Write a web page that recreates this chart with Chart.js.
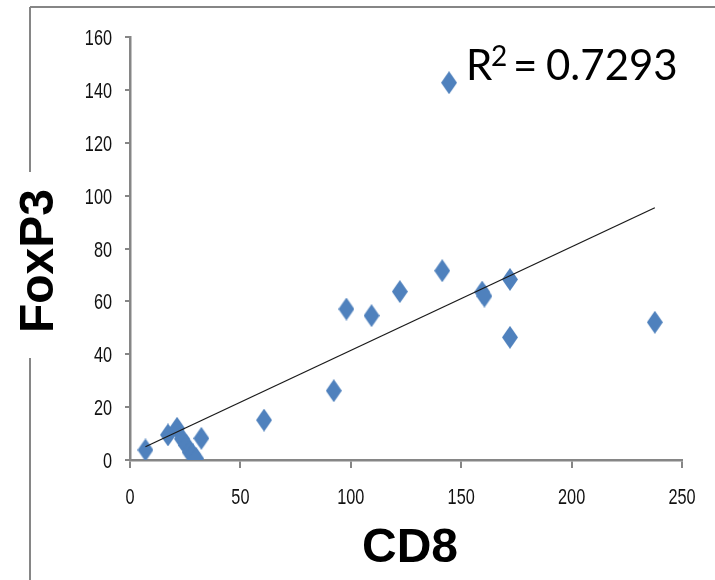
<!DOCTYPE html>
<html>
<head>
<meta charset="utf-8">
<script src="https://cdn.jsdelivr.net/npm/chart.js@4.4.1/dist/chart.umd.min.js"></script>
<style>
  html, body { margin: 0; padding: 0; background: #fff; }
  #wrap { position: relative; width: 715px; height: 580px; }
</style>
</head>
<body>
<div id="wrap"><canvas id="chart" width="715" height="580"></canvas></div>
<script>
// CD8 vs FoxP3 counts per sample
const cd8 = [7.0, 17.2, 21.3, 23.5, 25.5, 27.0, 28.5, 30.0, 32.3, 60.7, 92.3, 98.0, 109.4, 122.2, 141.4, 144.5, 159.5, 160.5, 172.1, 172.1, 237.7];
const foxp3 = [3.8, 9.5, 12.0, 8.0, 5.5, 3.0, 2.0, 0.5, 8.2, 15.1, 26.2, 57.1, 54.6, 63.7, 71.6, 142.7, 63.5, 62.0, 68.3, 46.4, 52.1];

// linear trend line end points
const trendX = [7.0, 237.7];
const trendY = [5.0, 95.4];

const xTicks = [0, 50, 100, 150, 200, 250];
const yTicks = [0, 20, 40, 60, 80, 100, 120, 140, 160];
const rSquared = "0.7293";

const axisGray = "#868686";
const markerBlue = "#4f81bd";

// tall diamond marker
function makeDiamond(w, h, color) {
  const c = document.createElement("canvas");
  c.width = w;
  c.height = h;
  const g = c.getContext("2d");
  g.fillStyle = color;
  g.beginPath();
  g.moveTo(w / 2, 0);
  g.lineTo(w, h / 2);
  g.lineTo(w / 2, h);
  g.lineTo(0, h / 2);
  g.closePath();
  g.fill();
  return c;
}
const diamond = makeDiamond(16, 23, markerBlue);

// narrow tick labels: Liberation Sans squeezed horizontally
const narrowLabels = {
  id: "narrowLabels",
  afterDraw(chart) {
    const ctx = chart.ctx;
    const sx = 0.74;
    ctx.save();
    ctx.scale(sx, 1);
    ctx.font = "22px 'Liberation Sans', Arial, sans-serif";
    ctx.fillStyle = "#111";
    ctx.textBaseline = "alphabetic";

    const xs = chart.scales.x;
    ctx.textAlign = "center";
    xTicks.forEach(v => {
      ctx.fillText(String(v), xs.getPixelForValue(v) / sx, 504);
    });

    const ys = chart.scales.y;
    ctx.textAlign = "right";
    yTicks.forEach(v => {
      ctx.fillText(String(v), 112 / sx, ys.getPixelForValue(v) + 8);
    });
    ctx.restore();
  }
};

// frame, axis titles and R² label
const decorations = {
  id: "decorations",
  afterDraw(chart) {
    const ctx = chart.ctx;
    ctx.save();
    ctx.strokeStyle = axisGray;
    ctx.lineWidth = 2;
    ctx.beginPath();
    ctx.moveTo(30, 7);
    ctx.lineTo(715, 7);
    ctx.moveTo(30, 7);
    ctx.lineTo(30, 172);
    ctx.moveTo(30, 358);
    ctx.lineTo(30, 580);
    ctx.stroke();

    ctx.fillStyle = "#000";
    ctx.font = "bold 48px 'Liberation Sans', Arial, sans-serif";
    ctx.textAlign = "center";
    ctx.textBaseline = "alphabetic";
    ctx.fillText("CD8", 410, 562);

    ctx.save();
    ctx.translate(53, 261);
    ctx.rotate(-Math.PI / 2);
    ctx.fillText("FoxP3", 0, 0);
    ctx.restore();

    ctx.textAlign = "left";
    ctx.font = "42px Lato, 'Open Sans', sans-serif";
    ctx.fillText("R", 466, 80);
    ctx.font = "28px Lato, 'Open Sans', sans-serif";
    ctx.fillText("2", 491, 66);
    ctx.font = "42px Lato, 'Open Sans', sans-serif";
    ctx.fillText("=", 513, 80);
    ctx.fillText(rSquared, 546, 80);
    ctx.restore();
  }
};

new Chart(document.getElementById("chart"), {
  data: {
    datasets: [
      {
        type: "line",
        label: "Linear",
        data: trendX.map((x, i) => ({ x, y: trendY[i] })),
        borderColor: "#1a1a1a",
        borderWidth: 1.3,
        pointRadius: 0,
        fill: false,
        order: 0
      },
      {
        type: "scatter",
        label: "FoxP3",
        data: cd8.map((x, i) => ({ x, y: foxp3[i] })),
        pointStyle: diamond,
        pointRadius: 8,
        order: 1
      }
    ]
  },
  options: {
    responsive: false,
    animation: false,
    devicePixelRatio: 1,
    layout: { padding: { left: 0, top: 37, right: 33, bottom: 0 } },
    plugins: {
      legend: { display: false },
      tooltip: { enabled: false }
    },
    scales: {
      x: {
        type: "linear",
        min: 0,
        max: 250,
        afterBuildTicks: s => { s.ticks = xTicks.map(v => ({ value: v })); },
        afterFit: s => { s.height = 120; },
        border: { color: axisGray, width: 2.5 },
        grid: { drawOnChartArea: false, drawTicks: true, tickLength: 8, color: axisGray, lineWidth: 2 },
        ticks: { display: false }
      },
      y: {
        type: "linear",
        min: 0,
        max: 160,
        afterBuildTicks: s => { s.ticks = yTicks.map(v => ({ value: v })); },
        afterFit: s => { s.width = 130; },
        border: { color: axisGray, width: 2.5 },
        grid: { drawOnChartArea: false, drawTicks: true, tickLength: 5, color: axisGray, lineWidth: 2 },
        ticks: { display: false }
      }
    }
  },
  plugins: [narrowLabels, decorations]
});
</script>
</body>
</html>
